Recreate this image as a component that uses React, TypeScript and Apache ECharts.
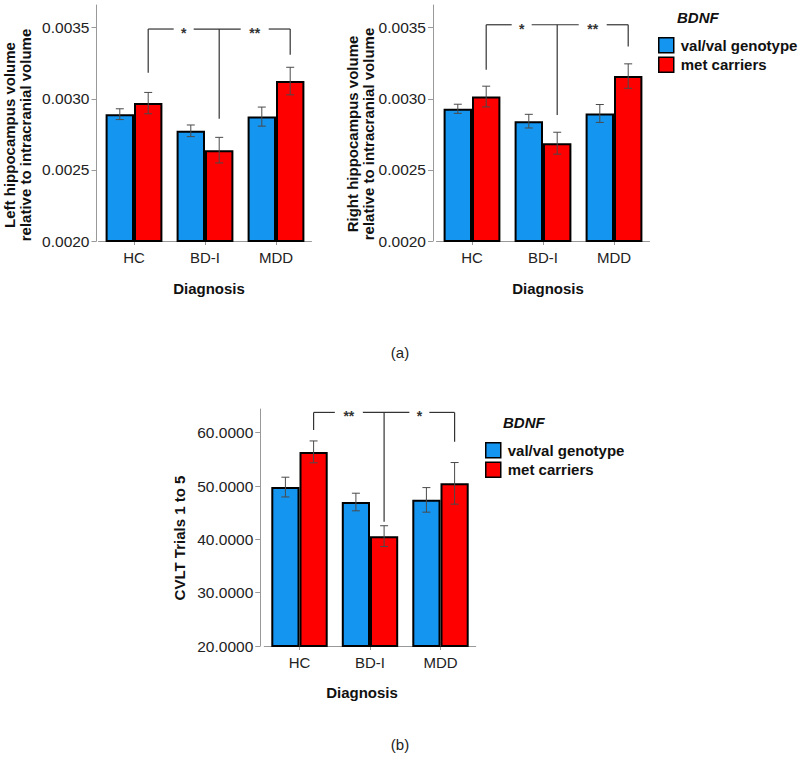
import React, { useEffect, useRef } from "react";
import * as echarts from "echarts";

const FONT = '"Liberation Sans", Arial, Helvetica, sans-serif';
const BLUE = "#1495F0";
const RED = "#FF0000";
const AXIS_GRAY = "#999999";

const categories = ["HC", "BD-I", "MDD"];
const seriesNames = ["val/val genotype", "met carriers"];

// (a) left hippocampus
const leftBlue = [0.002892, 0.002775, 0.002875];
const leftBlueSE = [0.000038, 0.000041, 0.000067];
const leftRed = [0.00297, 0.002639, 0.003125];
const leftRedSE = [0.000075, 0.00009, 0.000097];
// (a) right hippocampus
const rightBlue = [0.00293, 0.002843, 0.002897];
const rightBlueSE = [0.000032, 0.000048, 0.000063];
const rightRed = [0.003016, 0.002688, 0.00316];
const rightRedSE = [0.000073, 0.000077, 0.000086];
// (b) CVLT
const cvltBlue = [49.8, 47.0, 47.4];
const cvltBlueSE = [1.85, 1.65, 2.3];
const cvltRed = [56.4, 40.6, 50.5];
const cvltRedSE = [2.05, 1.95, 3.9];

const hippoTicks = [0.002, 0.0025, 0.003, 0.0035];
const cvltTicks = [20, 30, 40, 50, 60];

// significance brackets: [line level, left drop, middle drop, right drop]
const leftBracket = [0.003491, 0.003183, 0.00286, 0.00331];
const leftStars = ["*", "**"];
const rightBracket = [0.003521, 0.003204, 0.002887, 0.003368];
const rightStars = ["*", "**"];
const cvltBracket = [63.8, 60.5, 43.3, 58.3];
const cvltStars = ["**", "*"];

const panels = [
  {
    blue: leftBlue, blueSE: leftBlueSE, red: leftRed, redSE: leftRedSE,
    ticks: hippoTicks, min: 0.002, max: 0.00366,
    bracket: leftBracket, stars: leftStars,
    grid: { left: 98.5, top: 5, width: 213, height: 236 }, offset: 2, labelMargin: 9,
  },
  {
    blue: rightBlue, blueSE: rightBlueSE, red: rightRed, redSE: rightRedSE,
    ticks: hippoTicks, min: 0.002, max: 0.00366,
    bracket: rightBracket, stars: rightStars,
    grid: { left: 436.5, top: 5, width: 213, height: 236 }, offset: 3.5, labelMargin: 9,
  },
  {
    blue: cvltBlue, blueSE: cvltBlueSE, red: cvltRed, redSE: cvltRedSE,
    ticks: cvltTicks, min: 20, max: 64.44,
    bracket: cvltBracket, stars: cvltStars,
    grid: { left: 264.25, top: 409, width: 211.5, height: 237 }, offset: 4, labelMargin: 8.5,
  },
];

function errorRender(params: any, api: any) {
  const c = api.value(0);
  const lo = api.value(1);
  const hi = api.value(2);
  const side = api.value(3);
  const band = api.size([1, 0])[0];
  const top = api.coord([c, hi]);
  const bot = api.coord([c, lo]);
  const x = top[0] + side * band * 0.2;
  const cap = 4;
  const st = { stroke: "#4a4a4a", lineWidth: 1 };
  return {
    type: "group",
    children: [
      { type: "line", shape: { x1: x, y1: top[1], x2: x, y2: bot[1] }, style: st },
      { type: "line", shape: { x1: x - cap, y1: top[1], x2: x + cap, y2: top[1] }, style: st },
      { type: "line", shape: { x1: x - cap, y1: bot[1], x2: x + cap, y2: bot[1] }, style: st },
    ],
  };
}

function makeBracketRender(stars: string[]) {
  return (params: any, api: any) => {
    const yLine = api.value(1);
    const yL = api.value(2);
    const yM = api.value(3);
    const yR = api.value(4);
    const band = api.size([1, 0])[0];
    const pL = api.coord([0, yLine]);
    const pM = api.coord([1, yLine]);
    const pR = api.coord([2, yLine]);
    const xL = pL[0] + band * 0.2;
    const xM = pM[0] + band * 0.2;
    const xR = pR[0] + band * 0.2;
    const y0 = pL[1];
    const dL = api.coord([0, yL])[1];
    const dM = api.coord([1, yM])[1];
    const dR = api.coord([2, yR])[1];
    const s1 = (xL + xM) / 2;
    const s2 = (xM + xR) / 2;
    const g1 = stars[0].length > 1 ? 14 : 10;
    const g2 = stars[1].length > 1 ? 14 : 10;
    const st = { stroke: "#333", lineWidth: 1.2 };
    const ln = (x1: number, y1: number, x2: number, y2: number) => ({
      type: "line", shape: { x1, y1, x2, y2 }, style: st,
    });
    const txt = (x: number, t: string) => ({
      type: "text", x, y: y0 + 4,
      style: { text: t, fill: "#333", font: `bold 14px ${FONT}`, align: "center", verticalAlign: "middle" },
    });
    return {
      type: "group",
      children: [
        ln(xL, y0, s1 - g1, y0),
        ln(s1 + g1, y0, s2 - g2, y0),
        ln(s2 + g2, y0, xR, y0),
        ln(xL, y0, xL, dL),
        ln(xM, y0, xM, dM),
        ln(xR, y0, xR, dR),
        txt(s1, stars[0]),
        txt(s2, stars[1]),
      ],
    };
  };
}

function buildOption() {
  const grids: any[] = [];
  const xAxes: any[] = [];
  const yAxes: any[] = [];
  const series: any[] = [];
  panels.forEach((p, i) => {
    grids.push({ ...p.grid, containLabel: false });
    xAxes.push({
      type: "category",
      gridIndex: i,
      data: categories,
      axisLine: { onZero: false, lineStyle: { color: AXIS_GRAY, width: 1 } },
      axisTick: { show: true, alignWithLabel: true, length: 4, lineStyle: { color: AXIS_GRAY } },
      axisLabel: { fontSize: 15, color: "#222", fontFamily: FONT, margin: p.labelMargin },
      splitLine: { show: false },
    });
    yAxes.push({
      type: "value",
      gridIndex: i,
      min: p.min,
      max: p.max,
      offset: p.offset,
      splitLine: { show: false },
      axisLine: { show: true, lineStyle: { color: AXIS_GRAY, width: 1 } },
      axisTick: { show: true, length: 5, customValues: p.ticks, lineStyle: { color: AXIS_GRAY } },
      axisLabel: {
        customValues: p.ticks,
        formatter: (v: number) => v.toFixed(4),
        fontSize: 15.5,
        color: "#222",
        fontFamily: FONT,
        margin: 7,
      },
    });
    series.push({
      type: "bar",
      name: seriesNames[0],
      xAxisIndex: i,
      yAxisIndex: i,
      data: p.blue,
      barGap: "0%",
      barCategoryGap: "20%",
      itemStyle: { color: BLUE, borderColor: "#000", borderWidth: 2 },
    });
    series.push({
      type: "bar",
      name: seriesNames[1],
      xAxisIndex: i,
      yAxisIndex: i,
      data: p.red,
      barGap: "0%",
      barCategoryGap: "20%",
      itemStyle: { color: RED, borderColor: "#000", borderWidth: 2 },
    });
    const errData = [
      ...p.blue.map((v, k) => [k, v - p.blueSE[k], v + p.blueSE[k], -1]),
      ...p.red.map((v, k) => [k, v - p.redSE[k], v + p.redSE[k], 1]),
    ];
    series.push({
      type: "custom",
      name: "err" + i,
      xAxisIndex: i,
      yAxisIndex: i,
      data: errData,
      renderItem: errorRender,
      z: 10,
      clip: false,
      silent: true,
    });
    series.push({
      type: "custom",
      name: "sig" + i,
      xAxisIndex: i,
      yAxisIndex: i,
      data: [[1, ...p.bracket]],
      renderItem: makeBracketRender(p.stars),
      z: 10,
      clip: false,
      silent: true,
    });
  });

  const legendBase = {
    data: seriesNames,
    orient: "vertical",
    icon: "rect",
    itemWidth: 15,
    itemHeight: 15,
    itemGap: 3,
    selectedMode: false,
    itemStyle: { borderColor: "#000", borderWidth: 1.5 },
    textStyle: { fontSize: 15, fontWeight: "bold", color: "#111", fontFamily: FONT, padding: [0, 0, 0, 2] },
  };

  const titleStyle = (text: string) => ({
    text,
    fill: "#111",
    font: `bold 15px ${FONT}`,
    align: "center",
    verticalAlign: "middle",
    lineHeight: 16,
  });

  const graphic: any[] = [
    { type: "text", x: 17, y: 135, rotation: Math.PI / 2,
      style: titleStyle("Left hippocampus volume\nrelative to intracranial volume") },
    { type: "text", x: 360, y: 134, rotation: Math.PI / 2,
      style: titleStyle("Right hippocampus volume\nrelative to intracranial volume") },
    { type: "text", x: 179, y: 538, rotation: Math.PI / 2, style: titleStyle("CVLT Trials 1 to 5") },
    { type: "text", x: 209, y: 288, style: titleStyle("Diagnosis") },
    { type: "text", x: 548, y: 288, style: titleStyle("Diagnosis") },
    { type: "text", x: 362, y: 692, style: titleStyle("Diagnosis") },
    { type: "text", x: 677, y: 17,
      style: { text: "BDNF", fill: "#111", font: `italic bold 15px ${FONT}`, align: "left", verticalAlign: "middle" } },
    { type: "text", x: 503, y: 422,
      style: { text: "BDNF", fill: "#111", font: `italic bold 15px ${FONT}`, align: "left", verticalAlign: "middle" } },
    { type: "text", x: 400, y: 352,
      style: { text: "(a)", fill: "#222", font: `15px ${FONT}`, align: "center", verticalAlign: "middle" } },
    { type: "text", x: 400, y: 744,
      style: { text: "(b)", fill: "#222", font: `15px ${FONT}`, align: "center", verticalAlign: "middle" } },
  ];

  return {
    animation: false,
    backgroundColor: "#ffffff",
    textStyle: { fontFamily: FONT },
    grid: grids,
    xAxis: xAxes,
    yAxis: yAxes,
    legend: [
      { ...legendBase, left: 653, top: 32 },
      { ...legendBase, left: 480, top: 437 },
    ],
    graphic,
    series,
  };
}

export default function App() {
  const ref = useRef<HTMLDivElement>(null);
  useEffect(() => {
    if (!ref.current) return;
    const chart = echarts.init(ref.current, undefined, { renderer: "svg" });
    chart.setOption(buildOption() as any);
    return () => chart.dispose();
  }, []);
  return (
    <div
      ref={ref}
      style={{ position: "absolute", left: 0, top: 0, width: 800, height: 767, background: "#fff" }}
    />
  );
}
